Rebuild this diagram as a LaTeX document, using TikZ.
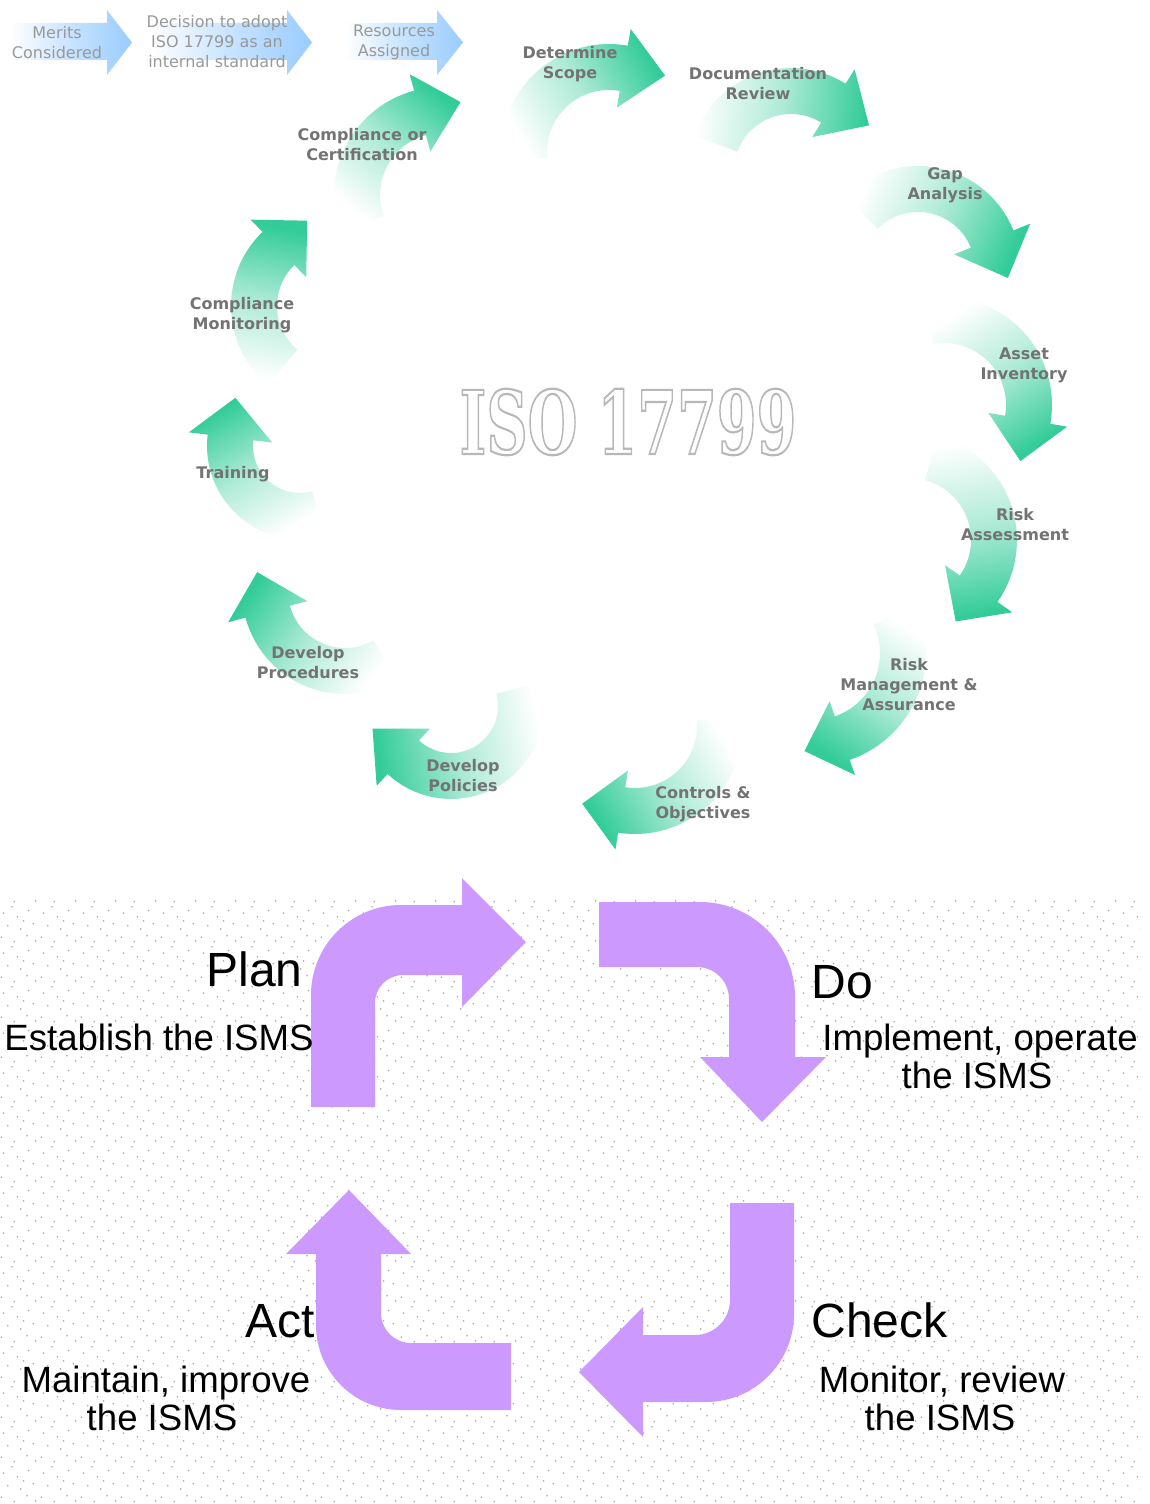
\documentclass[tikz,border=0pt]{standalone}
\usepackage{fontspec}
\usepackage{graphicx}
\setmainfont{DejaVu Sans}
\newfontfamily\pdcafont{Liberation Sans}
\newfontfamily\isofont{DejaVu Serif}
\usetikzlibrary{calc,patterns}

\definecolor{gcol}{RGB}{51,204,153}
\definecolor{bcol}{RGB}{153,204,255}
\definecolor{pcol}{RGB}{204,153,255}

% scattered grey dots for the lower panel
\pgfdeclarepatternformonly{pdots}{\pgfqpoint{0pt}{0pt}}{\pgfqpoint{20pt}{20pt}}{\pgfqpoint{20pt}{20pt}}{%
  \foreach \px/\py in {1.2/3.5, 7.8/1.1, 14.3/4.2, 4.5/9.3, 11.1/7.7, 17.6/10.4,
                       2.3/15.8, 9.4/13.9, 15.2/17.1, 6.7/19.0, 18.8/1.6, 12.6/11.8}
    {\pgfpathcircle{\pgfqpoint{\px pt}{\py pt}}{0.45pt}}%
  \pgfusepath{fill}}

% curved block arrow: centre (#1,#2), radius #3, from angle #4 to #5,
% body width #6, head half-width #7, head length #8, fade direction #9
\newcommand\garrow[9]{%
  \pgfmathsetmacro\gsgn{(#5>#4)?1:-1}%
  \pgfmathsetmacro\gro{#3+#6/2}%
  \pgfmathsetmacro\gri{#3-#6/2}%
  \pgfmathsetmacro\ghu{#3+#7}%
  \pgfmathsetmacro\ghl{#3-#7}%
  \pgfmathsetmacro\gta{#5+\gsgn*90}%
  \pgfmathsetmacro\gsa{-#9-90}%
  \shade[top color=gcol, bottom color=white, middle color=gcol!40, shading angle=\gsa]
    plot[domain=#4:#5, samples=30] ({#1+\gro*cos(\x)},{#2+\gro*sin(\x)})
    -- ({#1+\ghu*cos(#5)},{#2+\ghu*sin(#5)})
    -- ({#1+#3*cos(#5)+#8*cos(\gta)},{#2+#3*sin(#5)+#8*sin(\gta)})
    -- ({#1+\ghl*cos(#5)},{#2+\ghl*sin(#5)})
    -- plot[domain=#5:#4, samples=30] ({#1+\gri*cos(\x)},{#2+\gri*sin(\x)})
    -- cycle;
}

% straight faded block arrow along the top row
\newcommand\barrow[3]{%
  \shade[left color=white, right color=bcol, middle color=bcol!55]
    (#1,23) -- (#2,23) -- (#2,10) -- (#3,42.5) -- (#2,75) -- (#2,60) -- (#1,60) -- cycle;
}

% stroked (hollow) glyphs
\newcommand\hollow[1]{\special{pdf:literal direct 1 Tr 1.1 w}#1\special{pdf:literal direct 0 Tr}}

\tikzset{
  toptxt/.style={font=\fontsize{8}{10}\selectfont, text=black!40, align=center, inner sep=0pt},
  glabel/.style={font=\bfseries\fontsize{8}{10}\selectfont, text=black!55, align=center, inner sep=0pt},
  isostyle/.style={font=\isofont\bfseries\fontsize{44}{44}\selectfont, inner sep=0pt},
  bigword/.style={font=\pdcafont\fontsize{24}{24}\selectfont, inner sep=0pt},
  subline/.style={font=\pdcafont\fontsize{18.3}{18.3}\selectfont, inner sep=0pt, anchor=base},
}

\begin{document}
\begin{tikzpicture}[x=0.5pt, y=-0.5pt]
\fill[white] (0,0) rectangle (1150,1504);
\useasboundingbox (0,0) rectangle (1150,1504);

% ---------- top row ----------
\barrow{10}{107}{132}
\barrow{150}{287}{312}
\barrow{345}{437}{463}
\node[toptxt] (merits) at (57,43) {Merits\\Considered};
\node[toptxt] (decision) at (217,42) {Decision to adopt\\ISO 17799 as an\\internal standard};
\node[toptxt] (resources) at (394,42) {Resources\\Assigned};

% ---------- ISO 17799 cycle ----------
\garrow{442}{195}{85}{160}{255}{46}{40}{42}{-51}
\garrow{609}{152}{85}{175}{280}{46}{40}{42}{-30}
\garrow{791}{171}{80}{-160}{-58}{46}{40}{42}{5}
\garrow{918}{269}{80}{-135}{-22}{46}{41}{42}{25}
\garrow{944}{405}{85}{-100}{10}{46}{40}{42}{57}
\garrow{909}{540}{85}{-75}{35}{46}{41}{40}{80}
\garrow{813}{653}{90}{-25}{71}{46}{39}{40}{124}
\garrow{635}{726}{85}{-5}{99}{46}{40}{40}{150}
\garrow{451}{706}{70}{-15}{133}{46}{39}{42}{170}
\garrow{345}{591}{80}{60}{165}{46}{41}{41}{215}
\garrow{300}{446}{70}{75}{187}{46}{42}{40}{240}
\garrow{334}{306}{80}{130}{226}{46}{40}{40}{280}

\node[glabel] (cc) at (362,145) {Compliance or\\Certification};
\node[glabel] (ds) at (570,64) {Determine\\Scope};
\node[glabel] (dr) at (758,84) {Documentation\\Review};
\node[glabel] (ga) at (945,185) {Gap\\Analysis};
\node[glabel] (ai) at (1024,365) {Asset\\Inventory};
\node[glabel] (ra) at (1015,525) {Risk\\Assessment};
\node[glabel] (rm) at (909,685) {Risk\\Management \&\\Assurance};
\node[glabel] (co) at (703,804) {Controls \&\\Objectives};
\node[glabel] (dp) at (463,776) {Develop\\Policies};
\node[glabel] (dpr) at (308,663) {Develop\\Procedures};
\node[glabel] (tr) at (233,474) {Training};
\node[glabel] (cm) at (242,315) {Compliance\\Monitoring};

% outlined title
\node[isostyle, text=black!28] (iso) at (628,422) {\hollow{\scalebox{0.65}[1]{ISO 17799}}};

% ---------- PDCA panel ----------
\fill[pattern=pdots, pattern color=black!35] (0,898) rectangle (1140,1504);

% Plan
\fill[pcol] (311,1107) -- (311,995) .. controls (311,945.3) and (351.3,905) .. (401,905)
  -- (462,905) -- (462,878) -- (526,942) -- (462,1007) -- (462,975) -- (403,975)
  .. controls (387.5,975) and (375,987.5) .. (375,1003) -- (375,1107) -- cycle;
% Do
\fill[pcol] (599,902) -- (700,902) .. controls (752.4,902) and (795,944.6) .. (795,997)
  -- (795,1057) -- (826,1057) -- (762,1122) -- (700,1057) -- (729,1057) -- (729,999)
  .. controls (729,981.3) and (714.7,967) .. (697,967) -- (599,967) -- cycle;
% Check
\fill[pcol] (730,1203) -- (794,1203) -- (794,1314) .. controls (794,1362.6) and (754.6,1402) .. (706,1402)
  -- (643,1402) -- (643,1437) -- (579,1372) -- (643,1307) -- (643,1335) -- (695,1335)
  .. controls (714.3,1335) and (730,1319.3) .. (730,1300) -- cycle;
% Act
\fill[pcol] (511,1343) -- (411,1343) .. controls (394.4,1343) and (381,1329.6) .. (381,1313)
  -- (381,1254) -- (411,1254) -- (349,1190) -- (286,1254) -- (316,1254) -- (316,1325)
  .. controls (316,1372) and (354,1410) .. (401,1410) -- (511,1410) -- cycle;

\node[bigword, anchor=base east] (plan) at (303,986) {Plan};
\node[subline] (plan1) at (159,1050) {Establish the ISMS};

\node[bigword, anchor=base west] (do) at (811,998) {Do};
\node[subline] (do1) at (980,1050) {Implement, operate};
\node[subline] (do2) at (977,1088) {the ISMS};

\node[bigword, anchor=base west] (check) at (811,1337) {Check};
\node[subline] (check1) at (942,1392) {Monitor, review};
\node[subline] (check2) at (940,1430) {the ISMS};

\node[bigword, anchor=base east] (act) at (315,1337) {Act};
\node[subline] (act1) at (166,1392) {Maintain, improve};
\node[subline] (act2) at (162,1430) {the ISMS};
\end{tikzpicture}
\end{document}
